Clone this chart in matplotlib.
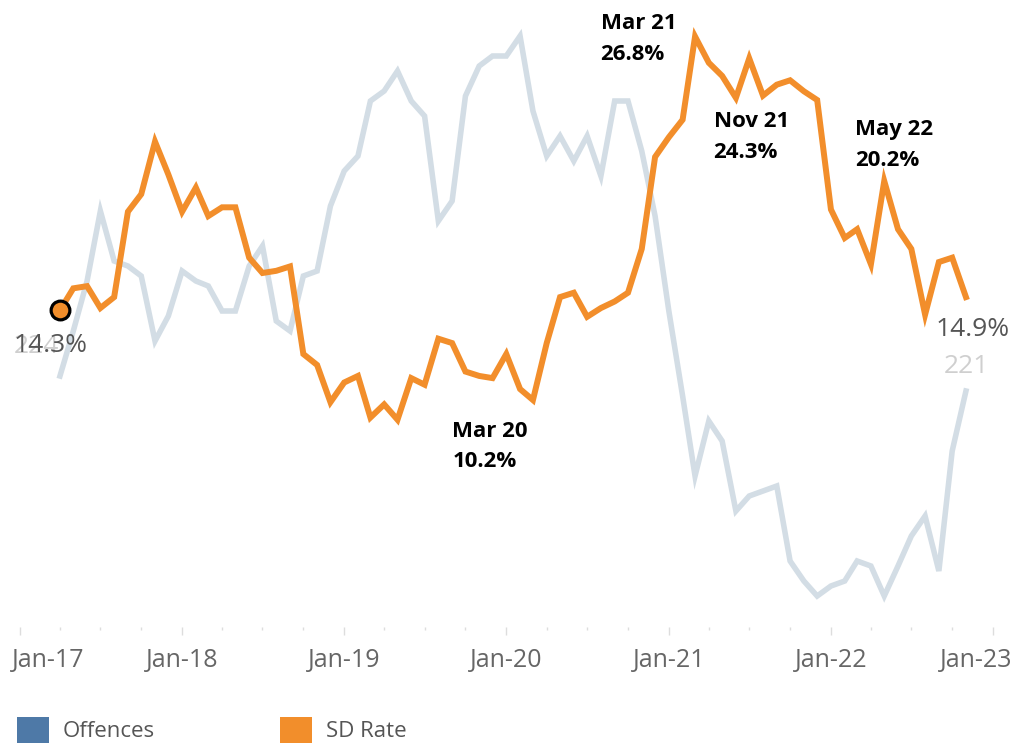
import pandas as pd
import matplotlib.pyplot as plt
from matplotlib.patches import Patch
from matplotlib.transforms import ScaledTranslation

plt.rcParams['font.family'] = ['Open Sans', 'DejaVu Sans']

# monthly series, Apr 2017 - Nov 2022
months = pd.date_range('2017-04-01', '2022-11-01', freq='MS')

offences = [
    224, 233, 243, 257, 247, 246, 244, 231, 236,
    245, 243, 242, 237, 237, 246, 250, 235, 233, 244, 245, 258,
    265, 268, 279, 281, 285, 279, 276, 255, 259, 280, 286, 288,
    288, 292, 277, 268, 272, 267, 272, 264, 279, 279, 269, 256,
    237, 220, 204, 215, 211, 197, 200, 201, 202, 187, 183, 180,
    182, 183, 187, 186, 180, 186, 192, 196, 185, 209, 221,
]

sd_rate = [
    14.3, 15.3, 15.4, 14.4, 14.9, 18.8, 19.6, 22.0, 20.5,
    18.8, 19.9, 18.6, 19.0, 19.0, 16.7, 16.0, 16.1, 16.3, 12.3, 11.8, 10.1,
    11.0, 11.3, 9.4, 10.0, 9.3, 11.2, 10.9, 13.0, 12.8, 11.5, 11.3, 11.2,
    12.3, 10.7, 10.2, 12.8, 14.9, 15.1, 14.0, 14.4, 14.7, 15.1, 17.1, 21.3,
    22.2, 23.0, 26.8, 25.6, 25.0, 24.0, 25.8, 24.1, 24.6, 24.8, 24.3, 23.9,
    18.9, 17.6, 18.0, 16.4, 20.2, 18.0, 17.1, 14.1, 16.5, 16.7, 14.9,
]

year_ticks = pd.date_range('2017-01-01', '2023-01-01', freq='YS')
year_labels = ['Jan-17', 'Jan-18', 'Jan-19', 'Jan-20', 'Jan-21', 'Jan-22', 'Jan-23']

callouts = ['2020-03-01', '2021-03-01', '2021-11-01', '2022-05-01']
# label offsets in points (x, y)
callout_offsets = [(-58, -33.5), (-68, -2), (-65, -33), (-21, 26)]

s = pd.Series(sd_rate, index=months)
o = pd.Series(offences, index=months)

fig = plt.figure(figsize=(10.19, 7.51), dpi=100)
ax = fig.add_axes([0.01963, 0.16511, 0.9549, 0.82157])
ax2 = ax.twinx()

ax.plot(o.index, o.values, color='#d3dde5', lw=4.0, solid_joinstyle='miter')
ax2.plot(s.index, s.values, color='#f28e2b', lw=4.3, solid_joinstyle='miter')
ax2.plot(s.index[0], s.iloc[0], 'o', ms=13.5, mfc='#f28e2b', mec='black', mew=2.3)

ax.set_ylim(173.8, 297.2)
ax2.set_ylim(-0.165, 28.01)
ax.set_xlim(year_ticks[0], year_ticks[-1])

# first / last value labels
ax.annotate(f'{o.iloc[0]}', (o.index[0], o.iloc[0]), xytext=(-17, 21),
            textcoords='offset points', ha='center', va='center',
            fontsize=19, color='#cfcfcf')
ax2.annotate(f'{s.iloc[0]:.1f}%', (s.index[0], s.iloc[0]), xytext=(-7, -25.5),
             textcoords='offset points', ha='center', va='center',
             fontsize=19, color='#555555')
ax2.annotate(f'{s.iloc[-1]:.1f}%', (s.index[-1], s.iloc[-1]), xytext=(5, -23),
             textcoords='offset points', ha='center', va='center',
             fontsize=19, color='#555555')
ax.annotate(f'{o.iloc[-1]}', (o.index[-1], o.iloc[-1]), xytext=(0, 18),
            textcoords='offset points', ha='center', va='center',
            fontsize=19, color='#cfcfcf')

for d, off in zip(callouts, callout_offsets):
    d = pd.Timestamp(d)
    ax2.annotate(f'{d:%b %y}\n{s[d]:.1f}%', (d, s[d]), xytext=off,
                 textcoords='offset points', ha='left', va='center',
                 fontsize=16, fontweight='bold', color='black',
                 linespacing=1.6)

for a in (ax, ax2):
    for sp in a.spines.values():
        sp.set_visible(False)
    a.set_yticks([])

ax.set_xticks(year_ticks)
ax.set_xticks(pd.date_range('2017-04-01', '2022-10-01', freq='QS-JAN')
              .difference(year_ticks), minor=True)
labels = ax.set_xticklabels(year_labels)
ax.tick_params(axis='x', which='major', length=6, width=1, color='#dddddd',
               labelsize=18, labelcolor='#666666', pad=9)
ax.tick_params(axis='x', which='minor', length=2.5, width=1, color='#dddddd')

# keep the end labels inside the figure
labels[0].set_ha('left')
labels[0].set_transform(labels[0].get_transform() +
                        ScaledTranslation(-0.08, 0, fig.dpi_scale_trans))
labels[-1].set_ha('right')
labels[-1].set_transform(labels[-1].get_transform() +
                         ScaledTranslation(0.19, 0, fig.dpi_scale_trans))

handles = [Patch(facecolor='#4e79a7', edgecolor='none', label='Offences'),
           Patch(facecolor='#f28e2b', edgecolor='none', label='SD Rate')]
fig.legend(handles=handles, loc='lower left', bbox_to_anchor=(-0.003, -0.016),
           ncol=2, frameon=False, fontsize=16, labelcolor='#555555',
           handlelength=1.45, handleheight=1.45, handletextpad=0.6,
           columnspacing=5.65)

fig.savefig('out.png', dpi=100)
